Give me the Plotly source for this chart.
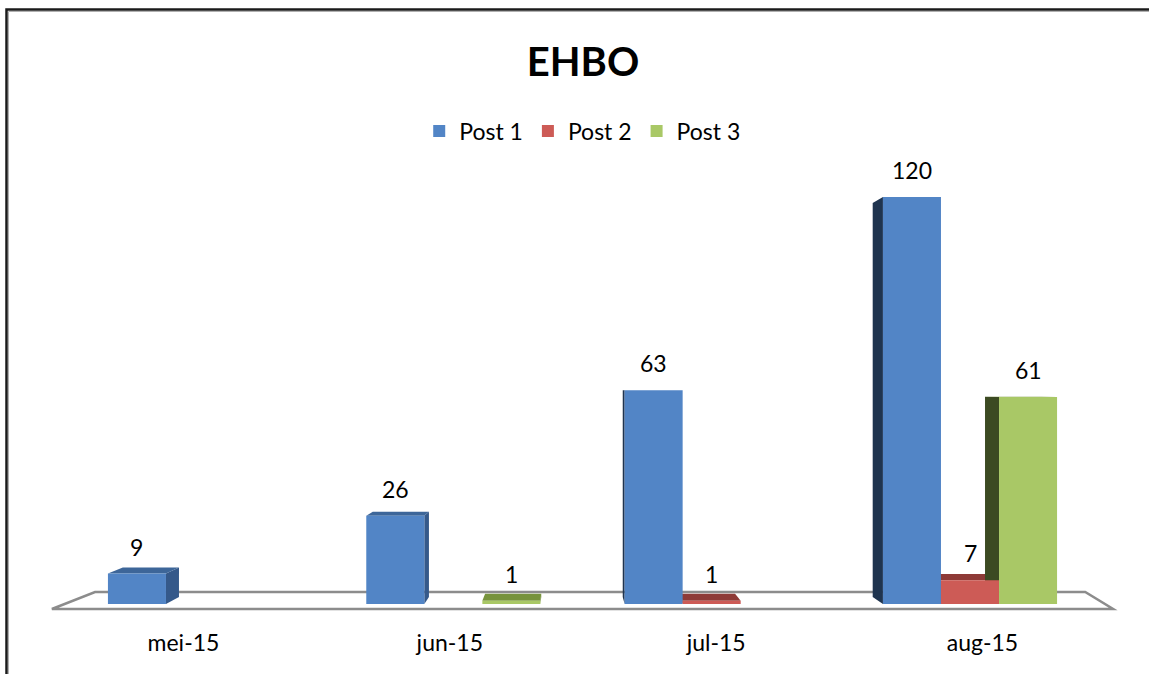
import plotly.graph_objects as go

# ---- data ----
categories = ["mei-15", "jun-15", "jul-15", "aug-15"]
series_names = ["Post 1", "Post 2", "Post 3"]
post1 = [9, 26, 63, 120]
post2 = [None, None, 1, 7]
post3 = [None, 1, None, 61]
series_values = [post1, post2, post3]

# ---- styles ----
front_colors = ["#5285c6", "#cd5b56", "#a9c866"]
left_side_colors = ["#1f344f", "#6e2c2a", "#3c4a22"]
right_side_colors = ["#35598a", "#8e3a37", "#6a8434"]
top_colors = ["#3d6699", "#8e3a37", "#77933c"]
FONT = "Lato"

BARGAP = 0.326
W = (1 - BARGAP) / 3          # width of a single bar in category units
VX, VY = 1.44, 64.0           # perspective vanishing point (data units)
S = 0.9676                    # depth scale of the back faces
LABEL_SCALE = 1.031           # category labels sit on the (nearer) floor edge

xs = list(range(len(categories)))

fig = go.Figure()
for name, vals, col in zip(series_names, series_values, front_colors):
    fig.add_trace(go.Bar(
        x=xs, y=vals, name=name,
        marker=dict(color=col, line=dict(width=0)),
        hoverinfo="x+y+name",
    ))


def back(x, y):
    return VX + S * (x - VX), VY + S * (y - VY)


def poly(pts):
    return "M " + " L ".join(f"{x:.5f},{y:.5f}" for x, y in pts) + " Z"


shapes = []
# floor (outline only)
shapes.append(dict(
    type="path", xref="x", yref="y", layer="below",
    path=poly([(-0.554, -1.47), (3.554, -1.47), (3.446, 3.54), (-0.387, 3.54)]),
    line=dict(color="#8c8c8c", width=2.5), fillcolor="rgba(255,255,255,0)",
))

annotations = []
for i in xs:
    for k, vals in enumerate(series_values):
        v = vals[i]
        if v is None:
            continue
        c = i + (k - 1) * W
        x0, x1 = c - W / 2, c + W / 2
        if x1 < VX:
            pts = [(x1, 0), (x1, v), back(x1, v), back(x1, 0)]
            shapes.append(dict(type="path", xref="x", yref="y", layer="below",
                               path=poly(pts), fillcolor=right_side_colors[k],
                               line=dict(width=0)))
        if x0 > VX:
            pts = [(x0, 0), (x0, v), back(x0, v), back(x0, 0)]
            shapes.append(dict(type="path", xref="x", yref="y", layer="below",
                               path=poly(pts), fillcolor=left_side_colors[k],
                               line=dict(width=0)))
        if v < VY:
            pts = [(x0, v), (x1, v), back(x1, v), back(x0, v)]
            shapes.append(dict(type="path", xref="x", yref="y", layer="below",
                               path=poly(pts), fillcolor=top_colors[k],
                               line=dict(width=0)))
        annotations.append(dict(
            x=c, y=v, xref="x", yref="y", text=str(v), showarrow=False,
            yanchor="middle", yshift=27,
            font=dict(family=FONT, size=23, color="#000000"),
        ))

# chart border (top and left edges visible)
PX0, PX1 = 40, 1125
PY0, PY1 = 146, 621


def px2paper_x(px):
    return (px - PX0) / (PX1 - PX0)


def px2paper_y(py):
    return (PY1 - py) / (PY1 - PY0)


# light shadow line just inside the frame
shapes.append(dict(
    type="path", xref="paper", yref="paper", layer="above",
    path=f"M {px2paper_x(8.5)},{px2paper_y(680)} L {px2paper_x(8.5)},{px2paper_y(11.5)} "
         f"L {px2paper_x(1160)},{px2paper_y(11.5)}",
    line=dict(color="#b0b0b0", width=1),
))
shapes.append(dict(
    type="path", xref="paper", yref="paper", layer="above",
    path=f"M {px2paper_x(6.5)},{px2paper_y(680)} L {px2paper_x(6.5)},{px2paper_y(9.5)} "
         f"L {px2paper_x(1160)},{px2paper_y(9.5)}",
    line=dict(color="#1a1a1a", width=2.5),
))

tickvals = [VX + LABEL_SCALE * (i - VX) for i in xs]

fig.update_layout(
    width=1149, height=674,
    margin=dict(l=PX0, r=1149 - PX1, t=PY0, b=674 - PY1, autoexpand=False),
    paper_bgcolor="white", plot_bgcolor="white",
    barmode="group", bargap=BARGAP, bargroupgap=0,
    title=dict(text="<b>EHBO</b>", x=583 / 1149, xanchor="center",
               y=1 - 62 / 674, yanchor="middle",
               font=dict(family=FONT, size=40, color="#000000")),
    legend=dict(orientation="h", x=0.5002, xanchor="center",
                y=px2paper_y(131), yanchor="middle",
                font=dict(family=FONT, size=23, color="#000000"),
                itemclick=False, itemdoubleclick=False),
    xaxis=dict(range=[-0.6, 3.6], showgrid=False, zeroline=False,
               showline=False, tickmode="array", tickvals=tickvals,
               ticktext=categories, ticks="outside", ticklen=1,
               tickcolor="rgba(0,0,0,0)", automargin=False,
               tickfont=dict(family=FONT, size=23, color="#000000"),
               fixedrange=True),
    yaxis=dict(range=[-5, 135], showgrid=False, zeroline=False,
               showline=False, showticklabels=False, fixedrange=True,
               automargin=False),
    shapes=shapes,
    annotations=annotations,
    showlegend=True,
)

fig.write_html(
    "out.html",
    config={"displayModeBar": False},
    post_script="document.body.style.margin='0';document.body.style.overflow='hidden';",
)
